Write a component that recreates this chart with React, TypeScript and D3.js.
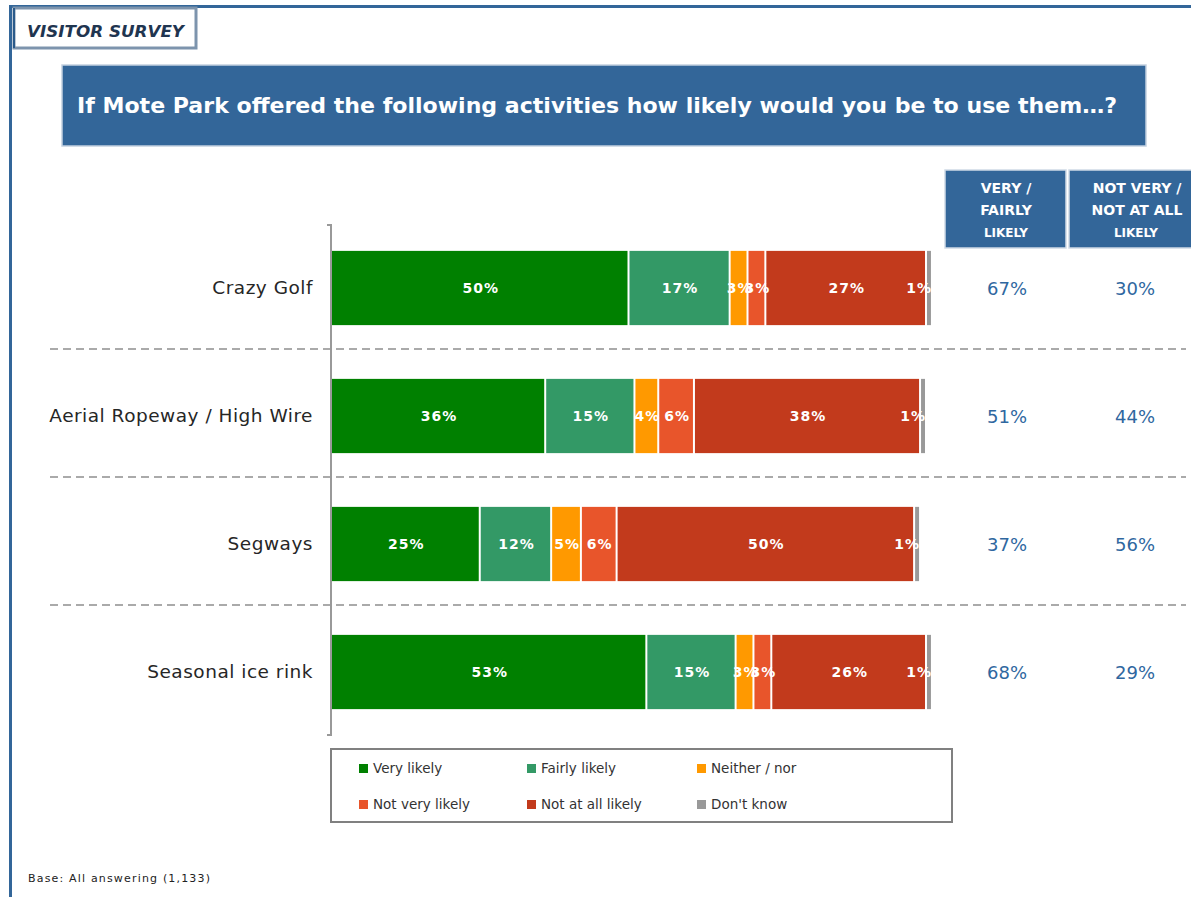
import React from "react";
import * as d3 from "d3";

const categories = ["Crazy Golf", "Aerial Ropeway / High Wire", "Segways", "Seasonal ice rink"];
const seriesNames = ["Very likely", "Fairly likely", "Neither / nor", "Not very likely", "Not at all likely", "Don't know"];
const seriesColors = ["#008000", "#339966", "#ff9900", "#e8552b", "#c23a1c", "#999999"];
const veryLikely = [50, 36, 25, 53];
const fairlyLikely = [17, 15, 12, 15];
const neither = [3, 4, 5, 3];
const notVeryLikely = [3, 6, 6, 3];
const notAtAllLikely = [27, 38, 50, 26];
const dontKnow = [1, 1, 1, 1];
const summaryLikely = [67, 51, 37, 68];
const summaryNotLikely = [30, 44, 56, 29];

const W = 1191;
const H = 897;
const FONT = "'DejaVu Sans', Verdana, sans-serif";

export default function App() {
  const series = [veryLikely, fairlyLikely, neither, notVeryLikely, notAtAllLikely, dontKnow];
  const x = d3.scaleLinear().domain([0, 100]).range([332, 927]);
  const y = d3.scaleBand<string>().domain(categories).range([224, 736]).paddingInner(0.42).paddingOuter(0.21);
  const bw = y.bandwidth();
  const step = y.step();

  const stacked = categories.map((c, i) => {
    let acc = 0;
    return series.map((s, k) => {
      const v = s[i];
      const seg = { k, v, x0: acc, x1: acc + v };
      acc += v;
      return seg;
    });
  });

  const colLikely = 1007;
  const colNot = 1135;

  const legendCols = [359, 527, 697];
  const legendRows = [764, 800];

  return (
    <svg width={W} height={H} style={{ position: "absolute", left: 0, top: 0, background: "#fff" }} fontFamily={FONT}>
      {/* frame */}
      <rect x={9} y={5} width={W - 9} height={3} fill="#336699" />
      <rect x={9} y={5} width={3} height={H - 5} fill="#336699" />
      {/* visitor survey tag */}
      <rect x={14} y={8} width={182} height={40} fill="#fff" stroke="#7d94ad" strokeWidth={3} />
      <line x1={14} y1={8} x2={14} y2={48} stroke="#2a5a8a" strokeWidth={2} />
      <text x={27} y={37} fontSize={16.5} fontWeight="bold" fontStyle="italic" fill="#1f3550" textLength={157} lengthAdjust="spacingAndGlyphs">VISITOR SURVEY</text>

      {/* title */}
      <rect x={62} y={65} width={1084} height={81} fill="#336699" stroke="#c3d1e0" strokeWidth={1.5} />
      <text x={77} y={113} fontSize={22} fontWeight="bold" fill="#fff" textLength={1040} lengthAdjust="spacingAndGlyphs">If Mote Park offered the following activities how likely would you be to use them…?</text>

      {/* header boxes */}
      <rect x={945} y={170} width={121} height={78} fill="#336699" stroke="#d0dae6" strokeWidth={1.5} />
      <rect x={1069} y={170} width={124} height={78} fill="#336699" stroke="#d0dae6" strokeWidth={1.5} />
      <g fill="#fff" fontWeight="bold" textAnchor="middle">
        <text x={1006} y={193} fontSize={14}>VERY /</text>
        <text x={1006} y={215} fontSize={14}>FAIRLY</text>
        <text x={1006} y={237} fontSize={12}>LIKELY</text>
        <text x={1137} y={193} fontSize={14}>NOT VERY /</text>
        <text x={1137} y={215} fontSize={14}>NOT AT ALL</text>
        <text x={1136} y={237} fontSize={12}>LIKELY</text>
      </g>

      {/* dashed separators */}
      {categories.slice(1).map((c) => {
        const yy = (y(c) as number) - (step - bw) / 2 - 3;
        return <line key={c} x1={50} x2={1186} y1={yy} y2={yy} stroke="#aaaaaa" strokeWidth={2} strokeDasharray="8,5" />;
      })}

      {/* axis */}
      <line x1={331} x2={331} y1={224} y2={736} stroke="#999" strokeWidth={2} />
      <line x1={327} x2={331} y1={225} y2={225} stroke="#999" strokeWidth={2} />
      <line x1={327} x2={331} y1={735} y2={735} stroke="#999" strokeWidth={2} />

      {/* bars */}
      {categories.map((c, i) => {
        const y0 = y(c) as number;
        const cy = y0 + bw / 2;
        return (
          <g key={c}>
            <text x={313} y={cy + 6} fontSize={18.5} letterSpacing={0.5} fill="#262626" textAnchor="end">{c}</text>
            {stacked[i].map((s) => {
              const a = x(s.x0);
              const b = x(s.x1);
              return <rect key={s.k} x={a} y={y0} width={Math.max(0, b - a - 2)} height={bw} fill={seriesColors[s.k]} />;
            })}
            {stacked[i].map((s) => {
              const a = x(s.x0);
              const b = x(s.x1);
              const last = s.k === series.length - 1;
              return (
                <text
                  key={"l" + s.k}
                  x={last ? b - 1 : (a + b) / 2}
                  y={cy + 5}
                  fontSize={14}
                  fontWeight="bold"
                  letterSpacing={1}
                  fill="#fff"
                  textAnchor={last ? "end" : "middle"}
                >
                  {s.v}%
                </text>
              );
            })}
            <text x={colLikely} y={cy + 7} fontSize={18} fill="#2f67a0" textAnchor="middle">{summaryLikely[i]}%</text>
            <text x={colNot} y={cy + 7} fontSize={18} fill="#2f67a0" textAnchor="middle">{summaryNotLikely[i]}%</text>
          </g>
        );
      })}

      {/* legend */}
      <rect x={331} y={749} width={621} height={73} fill="#fff" stroke="#808080" strokeWidth={2} />
      {seriesNames.map((n, k) => {
        const lx = legendCols[k % 3];
        const ly = legendRows[Math.floor(k / 3)];
        return (
          <g key={n}>
            <rect x={lx} y={ly} width={9} height={9} fill={seriesColors[k]} />
            <text x={lx + 14} y={ly + 9} fontSize={13.5} fill="#333">{n}</text>
          </g>
        );
      })}

      {/* base */}
      <text x={28} y={882} fontSize={11} fill="#222" textLength={182} lengthAdjust="spacing">Base: All answering (1,133)</text>
    </svg>
  );
}
